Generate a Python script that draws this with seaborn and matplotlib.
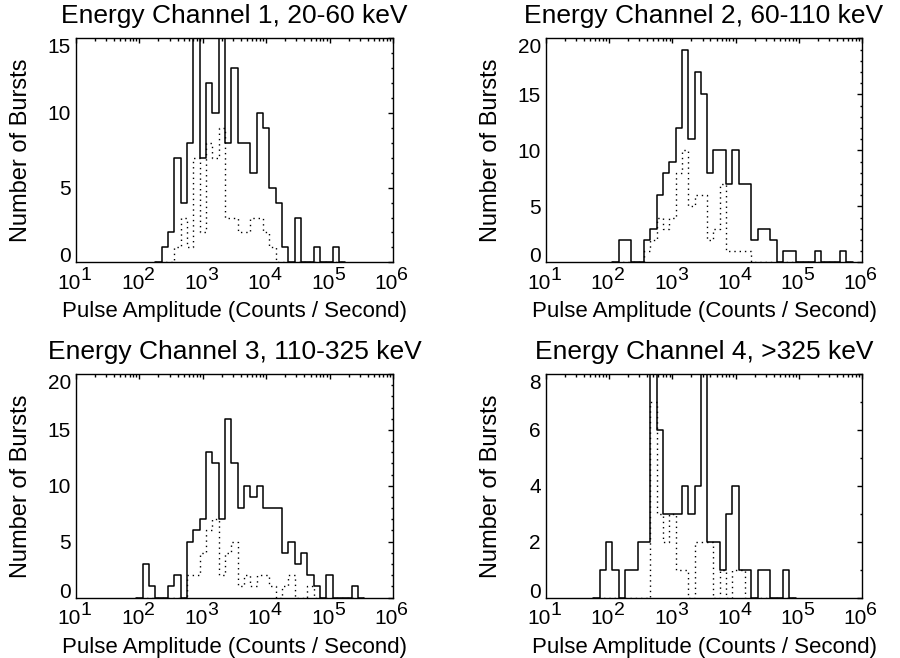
import numpy as np
import pandas as pd
import matplotlib
matplotlib.use("Agg")
import matplotlib.pyplot as plt
from matplotlib import transforms
from matplotlib.ticker import NullFormatter, MultipleLocator
import seaborn as sns

# Histogram bins are 0.1 decade wide; each channel lists counts from its first bin centre (log10 counts/s)
BIN_WIDTH = 0.1

# Channel 1, 20-60 keV
ch1_first = 2.4
ch1_all = [1, 2, 7, 4, 8, 16, 7, 12, 10, 16, 8, 13, 8, 8, 6, 10, 9, 5, 4, 1,
           0, 3, 0, 0, 1, 0, 0, 1]
ch1_sub = [0, 0, 1, 3, 1, 7, 2, 8, 7, 9, 3, 3, 2, 2, 3, 3, 2, 1, 0, 0,
           0, 0, 0, 0, 0, 0, 0, 0]

# Channel 2, 60-110 keV
ch2_first = 2.2
ch2_all = [2, 2, 0, 0, 2, 3, 6, 8, 9, 12, 19, 11, 17, 15, 8, 10, 10, 7, 10, 7,
           7, 2, 3, 3, 2, 0, 1, 1, 0, 0, 0, 1, 0, 0, 0, 1]
ch2_sub = [0, 0, 0, 0, 1, 2, 4, 3, 4, 8, 10, 5, 6, 6, 2, 3, 7, 1, 1, 1,
           1, 0, 0, 0, 0, 0, 0, 0, 0, 0, 0, 0, 0, 0, 0, 0]

# Channel 3, 110-325 keV
ch3_first = 2.1
ch3_all = [3, 1, 0, 0, 1, 2, 0, 5, 6, 7, 13, 12, 7, 16, 12, 8, 10, 9, 10, 8,
           8, 8, 4, 5, 3, 4, 2, 1, 0, 2, 0, 0, 0, 1]
ch3_sub = [0, 0, 0, 0, 0, 0, 0, 2, 2, 4, 6, 7, 2, 4, 5, 1, 2, 1, 2, 2,
           1, 0, 1, 2, 0, 0, 1, 0, 0, 0, 0, 0, 0, 0]

# Channel 4, >325 keV
ch4_first = 1.9
ch4_all = [1, 2, 1, 0, 1, 1, 2, 2, 9, 6, 3, 3, 3, 4, 3, 4, 9, 2, 2, 1,
           3, 4, 1, 1, 0, 1, 1, 0, 0, 1]
ch4_sub = [0, 0, 0, 0, 0, 0, 0, 0, 7, 3, 2, 3, 1, 1, 0, 2, 2, 2, 0, 1,
           0, 1, 1, 0, 0, 0, 0, 0, 0, 0]

titles = ["Energy Channel 1, 20-60 keV", "Energy Channel 2, 60-110 keV",
          "Energy Channel 3, 110-325 keV", "Energy Channel 4, >325 keV"]
y_max = [15, 20, 20, 8]
y_major = [5, 5, 5, 2]
decades = [1, 2, 3, 4, 5, 6]

panels = [
    (ch1_first, ch1_all, ch1_sub),
    (ch2_first, ch2_all, ch2_sub),
    (ch3_first, ch3_all, ch3_sub),
    (ch4_first, ch4_all, ch4_sub),
]

sns.set_style("white")
plt.rcParams["font.family"] = ["Liberation Sans", "DejaVu Sans"]
plt.rcParams["text.color"] = "black"
plt.rcParams["axes.labelcolor"] = "black"
plt.rcParams["xtick.color"] = "black"
plt.rcParams["ytick.color"] = "black"

W, H = 900, 658
fig = plt.figure(figsize=(W / 100, H / 100), dpi=100)

# axes boxes in pixels: left, top, right, bottom
boxes = [(76, 38.3, 393, 262.3), (546, 38.3, 862, 262.3),
         (76, 374, 393, 597.5), (546, 374, 862, 597.5)]


def draw_hist(ax, first, counts, **kws):
    counts = np.asarray(counts, dtype=float)
    centers = first + BIN_WIDTH * np.arange(len(counts))
    # empty bins on both sides so the outline rises from and returns to zero
    centers = np.concatenate([[centers[0] - BIN_WIDTH], centers,
                              [centers[-1] + BIN_WIDTH]])
    counts = np.concatenate([[0.0], counts, [0.0]])
    edges = np.append(centers - BIN_WIDTH / 2, centers[-1] + BIN_WIDTH / 2)
    df = pd.DataFrame({"amplitude": 10 ** centers, "bursts": counts})
    sns.histplot(data=df, x="amplitude", weights="bursts", bins=list(edges),
                 element="step", fill=False, log_scale=True, ax=ax,
                 color="black", **kws)


for i, ((first, all_counts, sub_counts), box) in enumerate(zip(panels, boxes)):
    l, t, r, b = box
    ax = fig.add_axes([l / W, 1 - b / H, (r - l) / W, (b - t) / H])

    draw_hist(ax, first, all_counts, linewidth=1.1)
    draw_hist(ax, first, sub_counts, linewidth=1.0, linestyle=(0, (1.0, 2.8)))

    ax.set_xscale("log")
    ax.set_xlim(10, 1e6)
    ax.set_ylim(0, y_max[i])
    ax.set_yticks(np.arange(0, y_max[i] + 0.1, y_major[i]))
    ax.yaxis.set_minor_locator(MultipleLocator(1))
    ax.xaxis.set_major_formatter(NullFormatter())
    ax.xaxis.set_minor_formatter(NullFormatter())

    ax.tick_params(which="both", direction="in", top=True, right=True,
                   width=1.0, colors="black")
    ax.tick_params(which="major", length=3.6, labelsize=15, pad=3.6)
    ax.tick_params(which="minor", length=1.8)
    for sp in ax.spines.values():
        sp.set_visible(True)
        sp.set_linewidth(1.0)
        sp.set_color("black")

    yt = ax.yaxis.get_major_ticks()
    yt[0].label1.set_verticalalignment("baseline")
    yt[-1].label1.set_verticalalignment("top")

    # decade labels as 10 with a raised exponent
    base_tr = ax.get_xaxis_transform()
    tr_base = transforms.offset_copy(base_tr, fig=fig, x=3.6, y=-19.4, units="points")
    tr_exp = transforms.offset_copy(base_tr, fig=fig, x=3.2, y=-12.9, units="points")
    for d in decades:
        ax.text(10.0 ** d, 0, "10", transform=tr_base, ha="right",
                va="baseline", fontsize=15, clip_on=False)
        ax.text(10.0 ** d, 0, str(d), transform=tr_exp, ha="left",
                va="baseline", fontsize=14, clip_on=False)

    ax_w, ax_h = r - l, b - t
    ax.set_xlabel("Pulse Amplitude (Counts / Second)", fontsize=16)
    ax.xaxis.set_label_coords(0.5, -55 / ax_h)
    ax.xaxis.label.set_verticalalignment("baseline")
    ax.set_ylabel("Number of Bursts", fontsize=17)
    ax.yaxis.set_label_coords(-49 / ax_w, 0.5)
    ax.yaxis.label.set_verticalalignment("baseline")
    ax.set_title(titles[i], fontsize=19, pad=10.8)

fig.savefig("out.png", dpi=100, facecolor="white")
